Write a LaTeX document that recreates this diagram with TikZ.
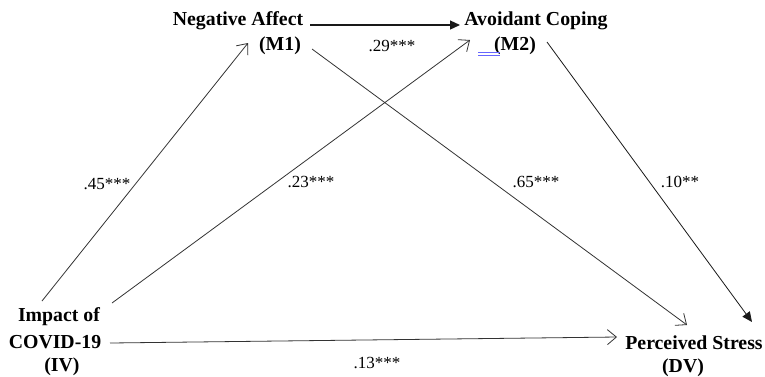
\documentclass[tikz,border=0pt]{standalone}
\usepackage{fontspec}
\setmainfont{Liberation Serif}
\usetikzlibrary{arrows.meta}
\begin{document}
\begin{tikzpicture}[x=1pt,y=-1pt,
  var/.style={font=\fontsize{19.8}{22}\selectfont\bfseries, inner sep=0pt, anchor=center},
  coef/.style={font=\fontsize{17}{19}\selectfont, inner sep=0pt, anchor=center},
  path/.style={draw=black!80, line width=0.8pt},
  openhead/.style={path, -{Straight Barb[length=9pt,width=15pt,line width=0.8pt]}},
  fillhead/.style={path, draw=black!90, -{Triangle[length=10pt,width=9pt]}}]
\useasboundingbox (0,0) rectangle (765,376);
% variable labels
\node[var] (na) at (238,21) {Negative Affect};
\node[var] (m1) at (280,46) {(M1)};
\node[var] (ac) at (536,21) {Avoidant Coping};
\node[var] (m2) at (515,46) {(M2)};
\node[var] (iv1) at (59,317) {Impact of};
\node[var] (iv2) at (55,342) {COVID-19};
\node[var] (iv3) at (62,367) {(IV)};
\node[var] (dv1) at (694,343) {Perceived Stress};
\node[var] (dv2) at (683,368) {(DV)};
% connector end points
\coordinate (naR) at (310,25);
\coordinate (acL) at (460,25);
\coordinate (ivA) at (42,301);
\coordinate (m1B) at (248,43);
\coordinate (ivB) at (112,303);
\coordinate (m2B) at (470,40);
\coordinate (m1R) at (312,49);
\coordinate (dvA) at (687,325);
\coordinate (m2R) at (547,42);
\coordinate (dvB) at (752,322);
\coordinate (ivR) at (110,343);
\coordinate (dvL) at (617,337);
% connectors
\draw[fillhead, line width=1.2pt] (naR) -- (acL);
\draw[openhead] (ivA) -- (m1B);
\draw[openhead] (ivB) -- (m2B);
\draw[openhead] (m1R) -- (dvA);
\draw[fillhead] (m2R) -- (dvB);
\draw[openhead] (ivR) -- (dvL);
% coefficients
\node[coef] (c29) at (392,46) {.29***};
\node[coef] (c45) at (107,184) {.45***};
\node[coef] (c23) at (311,182) {.23***};
\node[coef] (c65) at (536,182) {.65***};
\node[coef] (c10) at (680,182) {.10**};
\node[coef] (c13) at (377,363) {.13***};
% proofing mark
\draw[blue!60, line width=0.6pt] (478,52) -- (500,52) (478,55) -- (500,55);
\end{tikzpicture}
\end{document}
